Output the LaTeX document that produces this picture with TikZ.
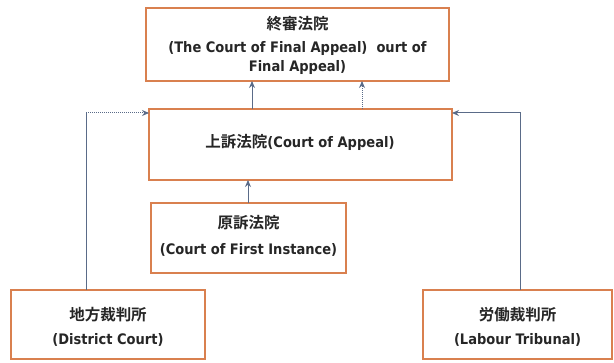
\documentclass[tikz,border=0pt]{standalone}
\usepackage{fontspec}
\setmainfont{DejaVu Sans Condensed}
\newfontfamily\cjk{Noto Sans CJK JP}[BoldFont={* Bold}]
\usetikzlibrary{arrows.meta}
\definecolor{boxor}{HTML}{D9804F}
\definecolor{arrbl}{HTML}{5A6B88}
\tikzset{
  court/.style={draw=boxor, line width=2.2pt, fill=white, inner sep=0pt, align=center},
  lbl/.style={font=\fontsize{14.5}{16}\selectfont\bfseries, text=black!85},
  cj/.style={font=\fontsize{15.5}{18}\selectfont\cjk\bfseries, text=black!85},
  up/.style={draw=arrbl, line width=1pt, -{Stealth[length=7pt,width=6pt]}},
}
\begin{document}
\begin{tikzpicture}[x=1pt,y=-1pt]
\useasboundingbox (0,0) rectangle (614,363);
% boxes
\draw[court] (146,8) rectangle (449,81);
\draw[court] (149,109) rectangle (452,180);
\draw[court] (151,203) rectangle (346,273);
\draw[court] (11,290) rectangle (205,359);
\draw[court] (423,290) rectangle (612,359);
\coordinate (cfaL) at (252,81);
\coordinate (cfaR) at (362,81);
\coordinate (caT1) at (252,109);
\coordinate (caT2) at (362,109);
\coordinate (caL) at (149,113);
\coordinate (caR) at (452,113);
\coordinate (caB) at (248,180);
\coordinate (cfiT) at (248,203);
\coordinate (dcT) at (86,290);
\coordinate (dcC) at (86,113);
\coordinate (ltT) at (520,290);
\coordinate (ltC) at (520,113);
% texts
\node[cj] (t1) at (297.5,24) {終審法院};
\node[lbl] (t2) at (297.5,49) {(The Court of Final Appeal)\ \ ourt of};
\node[lbl] (t3) at (297.5,68) {Final Appeal)};
\node[lbl] (t4) at (300,142) {{\cjk\fontsize{15.5}{18}\selectfont 上訴法院}(Court of Appeal)};
\node[cj] (t5) at (248.5,223) {原訴法院};
\node[lbl] (t6) at (248.5,250) {(Court of First Instance)};
\node[cj] (t7) at (108,315) {地方裁判所};
\node[lbl] (t8) at (108,340) {(District Court)};
\node[cj] (t9) at (517.5,315) {労働裁判所};
\node[lbl] (t10) at (517.5,340) {(Labour Tribunal)};
% connectors
\draw[up] (caT1) -- (cfaL);
\draw[up, densely dotted] (caT2) -- (cfaR);
\draw[up] (cfiT) -- (caB);
\draw[draw=arrbl, line width=1pt] (dcT) -- (dcC);
\draw[up, densely dotted] (dcC) -- (caL);
\draw[up] (ltT) -- (ltC) -- (caR);
\end{tikzpicture}
\end{document}
